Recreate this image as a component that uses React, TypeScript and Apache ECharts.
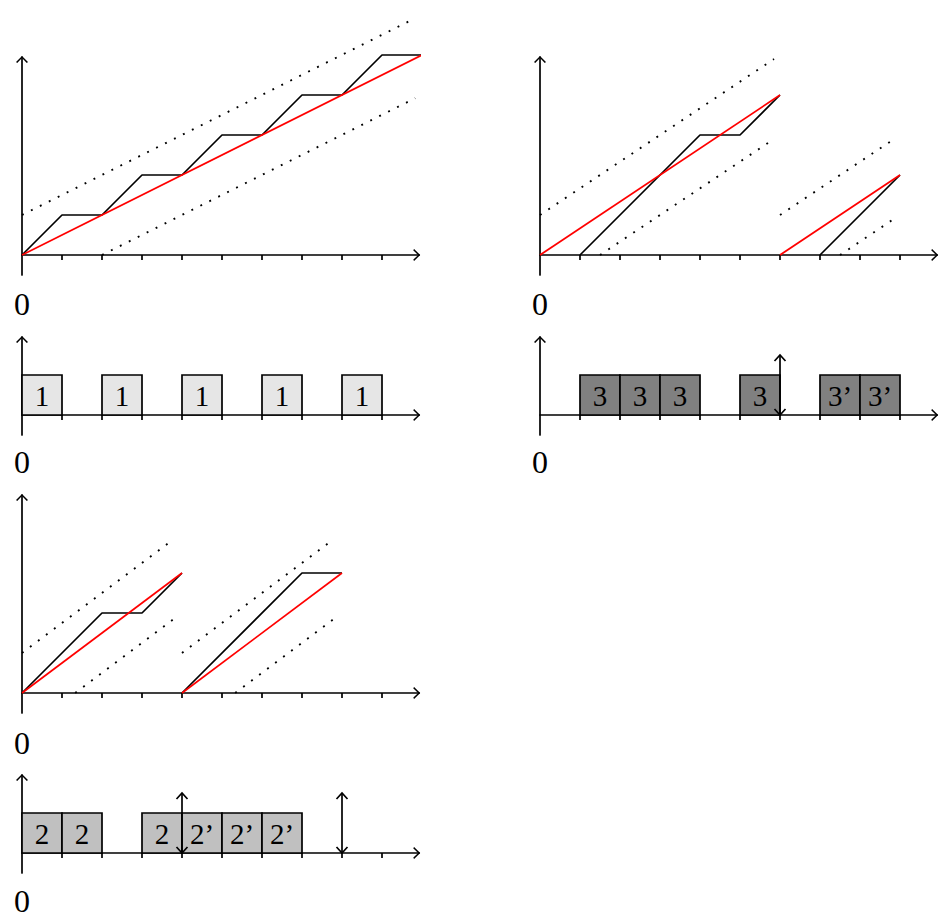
import React, { useEffect, useRef } from 'react';
import * as echarts from 'echarts';

// ---------- shared axis values ----------
const tickValues = [1, 2, 3, 4, 5, 6, 7, 8, 9];
const originLabel = [0];

// ---------- Panel A (top-left) ----------
const aStairX = [0, 1, 2, 3, 4, 5, 6, 7, 8, 9, 10];
const aStairY = [0, 1, 1, 2, 2, 3, 3, 4, 4, 5, 5];
const aRedX = [0, 10];
const aRedY = [0, 5];
const aUpperX = [0, 9.83];
const aUpperY = [1, 5.92];
const aLowerX = [2, 9.83];
const aLowerY = [0, 3.92];

// ---------- Panel B (top-right) ----------
const bRed1X = [0, 6];
const bRed1Y = [0, 4];
const bBlack1X = [1, 4, 5, 6];
const bBlack1Y = [0, 3, 3, 4];
const bUpper1X = [0, 5.85];
const bUpper1Y = [1, 4.9];
const bLower1X = [1.5, 5.85];
const bLower1Y = [0, 2.9];
const bRed2X = [6, 9];
const bRed2Y = [0, 2];
const bBlack2X = [7, 9];
const bBlack2Y = [0, 2];
const bUpper2X = [6, 8.9];
const bUpper2Y = [1, 2.93];
const bLower2X = [7.5, 8.95];
const bLower2Y = [0, 0.97];

// ---------- Panel C (middle-left) ----------
const cRed1X = [0, 4];
const cRed1Y = [0, 3];
const cBlack1X = [0, 2, 3, 4];
const cBlack1Y = [0, 2, 2, 3];
const cUpper1X = [0, 3.8];
const cUpper1Y = [1, 3.85];
const cLower1X = [1.33, 3.9];
const cLower1Y = [0, 1.93];
const cRed2X = [4, 8];
const cRed2Y = [0, 3];
const cBlack2X = [4, 7, 8];
const cBlack2Y = [0, 3, 3];
const cUpper2X = [4, 7.8];
const cUpper2Y = [1, 3.85];
const cLower2X = [5.33, 7.9];
const cLower2Y = [0, 1.93];

// ---------- Box rows ----------
const boxHeight = 1;
const row1Starts = [0, 2, 4, 6, 8];
const row1Labels = ['1', '1', '1', '1', '1'];
const row2Starts = [1, 2, 3, 5, 7, 8];
const row2Labels = ['3', '3', '3', '3', '3’', '3’'];
const row3Starts = [0, 1, 3, 4, 5, 6];
const row3Labels = ['2', '2', '2', '2’', '2’', '2’'];
const arrowHeight = 1.5;
const row2Arrows = [6];
const row3Arrows = [4, 8];

const FONT = 'Liberation Serif';
const CHEVRON = 'path://M6,0 L12,6.1 L10.8,7 L6,2.1 L1.2,7 L0,6.1 Z';
const LW = 1.7;

const zip = (xs: number[], ys: number[]) => xs.map((x, i) => [x, ys[i]]);

function lineSeries(g: number, xs: number[], ys: number[], kind: 'black' | 'red' | 'dot') {
  const style: any =
    kind === 'dot'
      ? { color: '#000', width: 1.9, type: [1.9, 8.1], cap: 'butt' }
      : { color: kind === 'red' ? '#ff0000' : '#000', width: LW, type: 'solid' };
  return {
    type: 'line',
    xAxisIndex: g,
    yAxisIndex: g,
    data: zip(xs, ys),
    showSymbol: false,
    symbol: 'none',
    clip: false,
    silent: true,
    lineStyle: style,
    z: kind === 'red' ? 4 : 3,
  };
}

function boxSeries(g: number, starts: number[], labels: string[], fill: string) {
  return {
    type: 'custom',
    xAxisIndex: g,
    yAxisIndex: g,
    data: starts.map((s) => [s, boxHeight]),
    encode: { x: 0, y: 1 },
    z: 5,
    silent: true,
    renderItem: (params: any, api: any) => {
      const s = api.value(0);
      const h = api.value(1);
      const tl = api.coord([s, h]);
      const br = api.coord([s + 1, 0]);
      return {
        type: 'group',
        children: [
          {
            type: 'rect',
            shape: { x: tl[0], y: tl[1], width: br[0] - tl[0], height: br[1] - tl[1] },
            style: { fill, stroke: '#000', lineWidth: LW },
          },
          {
            type: 'text',
            x: (tl[0] + br[0]) / 2,
            y: (tl[1] + br[1]) / 2 + 1,
            style: {
              text: labels[params.dataIndex],
              fontFamily: FONT,
              fontSize: 29,
              fill: '#000',
              align: 'center',
              verticalAlign: 'middle',
            },
          },
        ],
      };
    },
  };
}

function arrowSeries(g: number, xs: number[]) {
  return {
    type: 'custom',
    xAxisIndex: g,
    yAxisIndex: g,
    data: xs.map((x) => [x, arrowHeight]),
    encode: { x: 0, y: 1 },
    z: 6,
    silent: true,
    renderItem: (params: any, api: any) => {
      const x = api.value(0);
      const h = api.value(1);
      const t = api.coord([x, h]);
      const b = api.coord([x, 0]);
      const st = { stroke: '#000', lineWidth: LW, fill: 'none' };
      return {
        type: 'group',
        children: [
          { type: 'line', shape: { x1: b[0], y1: b[1], x2: t[0], y2: t[1] }, style: st },
          { type: 'polyline', shape: { points: [[t[0] - 5.5, t[1] + 6], [t[0], t[1]], [t[0] + 5.5, t[1] + 6]] }, style: st },
          { type: 'polyline', shape: { points: [[b[0] - 5.5, b[1] - 6], [b[0], b[1]], [b[0] + 5.5, b[1] - 6]] }, style: st },
        ],
      };
    },
  };
}

// grid geometry: origin (ox, oy), 40px per unit
const XMAX = 9.93;
const panels = [
  { ox: 22, oy: 255, ymax: 4.95, lab: 29 },
  { ox: 22, oy: 415, ymax: 1.95, lab: 27 },
  { ox: 540, oy: 255, ymax: 4.95, lab: 29 },
  { ox: 540, oy: 415, ymax: 1.95, lab: 27 },
  { ox: 22, oy: 693, ymax: 4.95, lab: 30 },
  { ox: 22, oy: 853, ymax: 1.95, lab: 28 },
];
const YMIN = -0.5;
const U = 40;

const axisLineStyle = { color: '#000', width: LW };

function buildOption() {
  const grid = panels.map((p) => ({
    left: p.ox,
    top: p.oy - p.ymax * U,
    width: XMAX * U,
    height: (p.ymax - YMIN) * U,
    containLabel: false,
    outerBoundsMode: 'none',
  }));
  const xAxis = panels.map((p, i) => ({
    type: 'value',
    gridIndex: i,
    min: 0,
    max: XMAX,
    axisLine: {
      show: true,
      onZero: true,
      lineStyle: axisLineStyle,
      symbol: ['none', CHEVRON],
      symbolSize: [12, 7],
      symbolOffset: [0, -2.5],
    },
    axisTick: { show: true, customValues: tickValues, length: 5, inside: false, lineStyle: axisLineStyle },
    axisLabel: {
      show: true,
      customValues: originLabel,
      margin: p.lab,
      verticalAlign: 'middle',
      fontFamily: FONT,
      fontSize: 32,
      color: '#000',
    },
    splitLine: { show: false },
  }));
  const yAxis = panels.map((p, i) => ({
    type: 'value',
    gridIndex: i,
    min: YMIN,
    max: p.ymax,
    axisLine: {
      show: true,
      onZero: true,
      lineStyle: axisLineStyle,
      symbol: ['none', CHEVRON],
      symbolSize: [12, 7],
      symbolOffset: [0, -2.5],
    },
    axisTick: { show: false },
    axisLabel: { show: false },
    splitLine: { show: false },
  }));

  const series: any[] = [
    // Panel A
    lineSeries(0, aUpperX, aUpperY, 'dot'),
    lineSeries(0, aLowerX, aLowerY, 'dot'),
    lineSeries(0, aStairX, aStairY, 'black'),
    lineSeries(0, aRedX, aRedY, 'red'),
    // Row 1
    boxSeries(1, row1Starts, row1Labels, '#e6e6e6'),
    // Panel B
    lineSeries(2, bUpper1X, bUpper1Y, 'dot'),
    lineSeries(2, bLower1X, bLower1Y, 'dot'),
    lineSeries(2, bUpper2X, bUpper2Y, 'dot'),
    lineSeries(2, bLower2X, bLower2Y, 'dot'),
    lineSeries(2, bBlack1X, bBlack1Y, 'black'),
    lineSeries(2, bBlack2X, bBlack2Y, 'black'),
    lineSeries(2, bRed1X, bRed1Y, 'red'),
    lineSeries(2, bRed2X, bRed2Y, 'red'),
    // Row 2
    boxSeries(3, row2Starts, row2Labels, '#808080'),
    arrowSeries(3, row2Arrows),
    // Panel C
    lineSeries(4, cUpper1X, cUpper1Y, 'dot'),
    lineSeries(4, cLower1X, cLower1Y, 'dot'),
    lineSeries(4, cUpper2X, cUpper2Y, 'dot'),
    lineSeries(4, cLower2X, cLower2Y, 'dot'),
    lineSeries(4, cBlack1X, cBlack1Y, 'black'),
    lineSeries(4, cBlack2X, cBlack2Y, 'black'),
    lineSeries(4, cRed1X, cRed1Y, 'red'),
    lineSeries(4, cRed2X, cRed2Y, 'red'),
    // Row 3
    boxSeries(5, row3Starts, row3Labels, '#c0c0c0'),
    arrowSeries(5, row3Arrows),
  ];

  return {
    animation: false,
    backgroundColor: '#ffffff',
    grid,
    xAxis,
    yAxis,
    series,
  };
}

export default function App() {
  const ref = useRef<HTMLDivElement>(null);
  useEffect(() => {
    if (!ref.current) return;
    const chart = echarts.init(ref.current, undefined, { renderer: 'svg' });
    chart.setOption(buildOption() as any);
    return () => chart.dispose();
  }, []);
  return (
    <div
      ref={ref}
      style={{ position: 'absolute', left: 0, top: 0, width: 945, height: 923, background: '#fff' }}
    />
  );
}
